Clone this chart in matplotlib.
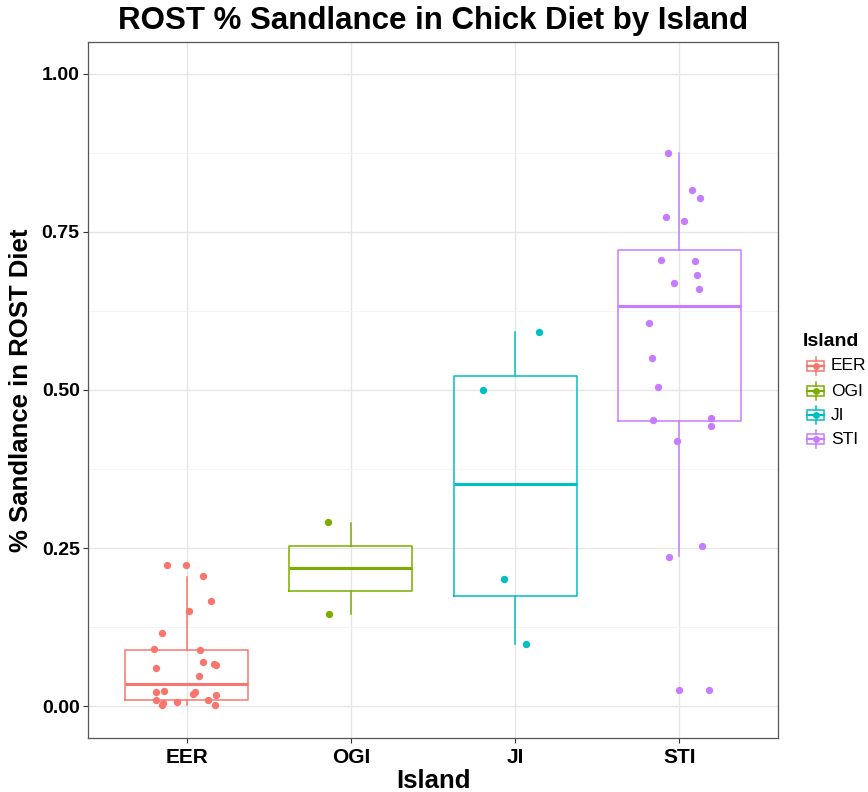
import matplotlib
matplotlib.use("Agg")
import matplotlib.pyplot as plt
from matplotlib.patches import Rectangle
from matplotlib.lines import Line2D
from matplotlib.ticker import MultipleLocator

plt.rcParams['font.family'] = ['Liberation Sans', 'DejaVu Sans']

# Categories and colours (ggplot hue palette)
islands = ["EER", "OGI", "JI", "STI"]
colors = ["#F8766D", "#7CAE00", "#00BFC4", "#C77CFF"]

# Point values, with their horizontal jitter
eer_vals = [0.223, 0.223, 0.206, 0.166, 0.151, 0.116, 0.090, 0.089, 0.070, 0.067,
            0.065, 0.061, 0.048, 0.023, 0.025, 0.020, 0.023, 0.018, 0.010, 0.0075,
            0.010, 0.005, 0.002, 0.002]
eer_jit = [-0.122, -0.002, 0.097, 0.148, 0.014, -0.152, -0.197, 0.083, 0.097, 0.169,
           0.178, -0.187, 0.075, -0.187, -0.140, 0.037, 0.051, 0.181, -0.184, -0.057,
           0.132, -0.142, -0.152, 0.172]
ogi_vals = [0.291, 0.1455]
ogi_jit = [-0.138, -0.132]
ji_vals = [0.592, 0.4995, 0.201, 0.098]
ji_jit = [0.146, -0.198, -0.067, 0.067]
sti_vals = [0.8746, 0.8164, 0.8037, 0.774, 0.7667, 0.7058, 0.7037, 0.682, 0.6698, 0.6593,
            0.6058, 0.5503, 0.5048, 0.4529, 0.455, 0.4429, 0.4196, 0.2534, 0.2365, 0.0265,
            0.0265]
sti_jit = [-0.069, 0.077, 0.125, -0.082, 0.026, -0.114, 0.093, 0.107, -0.033, 0.122,
           -0.187, -0.164, -0.130, -0.158, 0.195, 0.192, -0.012, 0.136, -0.065, 0.0,
           0.180]

# Box statistics
q1 = [0.0105, 0.1825, 0.175, 0.4508]
med = [0.036, 0.218, 0.351, 0.633]
q3 = [0.089, 0.254, 0.522, 0.721]
whislo = [0.002, 0.146, 0.098, 0.237]
whishi = [0.204, 0.290, 0.592, 0.875]

values = [eer_vals, ogi_vals, ji_vals, sti_vals]
jitters = [eer_jit, ogi_jit, ji_jit, sti_jit]

fig = plt.figure(figsize=(8.68, 7.92), dpi=100)
ax = fig.add_axes([88 / 868, 54 / 792, 690 / 868, 696 / 792])

# Boxplots
stats = []
for i in range(len(islands)):
    stats.append({"q1": q1[i], "med": med[i], "q3": q3[i],
                  "whislo": whislo[i], "whishi": whishi[i], "label": islands[i]})
positions = list(range(1, len(islands) + 1))
bp = ax.bxp(stats, positions=positions, widths=0.75, showfliers=False, showcaps=False,
            boxprops={"linewidth": 1.1}, whiskerprops={"linewidth": 1.1},
            medianprops={"linewidth": 2.2}, zorder=2)
for i, c in enumerate(colors):
    bp["boxes"][i].set_color(c)
    bp["medians"][i].set_color(c)
    bp["whiskers"][2 * i].set_color(c)
    bp["whiskers"][2 * i + 1].set_color(c)

# Jittered points
for i, c in enumerate(colors):
    xs = [positions[i] + j for j in jitters[i]]
    ax.scatter(xs, values[i], s=28, color=c, linewidths=0, zorder=3)

# Axes styling (theme_bw look)
ax.set_xlim(0.4, 4.6)
ax.set_ylim(-0.05, 1.05)
ax.set_xticks(positions)
ax.set_xticklabels(islands, fontsize=15, fontweight="bold")
ax.yaxis.set_minor_locator(MultipleLocator(0.125))
ax.set_yticks([0, 0.25, 0.5, 0.75, 1.0])
ax.set_yticklabels(["0.00", "0.25", "0.50", "0.75", "1.00"], fontsize=14, fontweight="bold")
ax.grid(True, which="major", color="#E6E6E6", linewidth=1.0, zorder=0)
ax.grid(True, which="minor", axis="y", color="#F2F2F2", linewidth=0.6, zorder=0)
ax.set_axisbelow(True)
ax.tick_params(axis="both", which="major", length=3.5, width=0.8, color="#333333")
ax.tick_params(axis="x", which="major", pad=4)
ax.tick_params(axis="y", which="major", pad=2.5)
ax.tick_params(axis="y", which="minor", length=0)
for s in ax.spines.values():
    s.set_color("#555555")
    s.set_linewidth(0.9)

ax.set_xlabel("Island", fontsize=18.5, fontweight="bold", labelpad=1)
ax.set_ylabel("% Sandlance in ROST Diet", fontsize=18.5, fontweight="bold", labelpad=6)
fig.text(433 / 868, 1 - 21 / 792, "ROST % Sandlance in Chick Diet by Island",
         ha="center", va="center", fontsize=22.5, fontweight="bold")

# Legend drawn by hand in pixel coordinates
lg = fig.add_axes([0, 0, 1, 1])
lg.set_xlim(0, 868)
lg.set_ylim(792, 0)
lg.axis("off")
lg.text(803, 341, "Island", fontsize=14, fontweight="bold", va="center", ha="left")
key_y = [366, 391, 415, 439]
for i, c in enumerate(colors):
    y = key_y[i]
    lg.add_patch(Rectangle((807, y - 5), 17, 10, fill=False, edgecolor=c, linewidth=1.1))
    lg.add_line(Line2D([807, 824], [y, y], color=c, linewidth=1.6))
    lg.add_line(Line2D([815.5, 815.5], [y - 9, y - 5], color=c, linewidth=1.1))
    lg.add_line(Line2D([815.5, 815.5], [y + 5, y + 9], color=c, linewidth=1.1))
    lg.plot([815.5], [y], marker="o", markersize=5, color=c, markeredgewidth=0)
    lg.text(831, y, islands[i], fontsize=12.5, va="center", ha="left")

fig.savefig("out.png", dpi=100)
